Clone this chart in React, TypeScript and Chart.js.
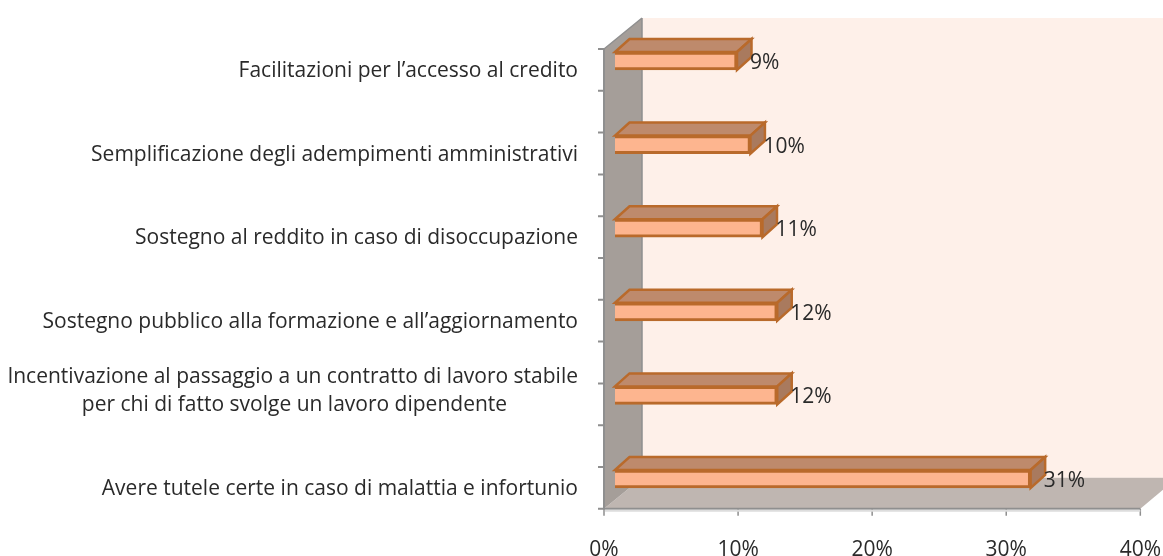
import React, { useEffect, useRef } from "react";
import { Chart, registerables } from "chart.js";

Chart.register(...registerables);

const categories: (string | string[])[] = [
  "Facilitazioni per l’accesso al credito",
  "Semplificazione degli adempimenti amministrativi",
  "Sostegno al reddito in caso di disoccupazione",
  "Sostegno pubblico alla formazione e all’aggiornamento",
  ["Incentivazione al passaggio a un contratto di lavoro stabile", "per chi di fatto svolge un lavoro dipendente"],
  "Avere tutele certe in caso di malattia e infortunio",
];
const shownValues = [9.1, 10.1, 11.0, 12.1, 12.1, 31.0];
const valueLabels = ["9%", "10%", "11%", "12%", "12%", "31%"];
const xTicks = [0, 10, 20, 30, 40];

const FONT = "'Open Sans', sans-serif";
const BAR_SHIFT = { x: 11, y: -7 };
const BAR_DEPTH = { x: 14.5, y: -13 };
const WALL_DEPTH = { x: 38, y: -31 };
const C = {
  back: "#FEF0E9", floor: "#BFB6B1", wall: "#A59E99", edge: "#8F8F8F", edgeLight: "#DDDDDD",
  face: "#FDB58F", top: "#BE8A6C", side: "#A97A5E", stroke: "#B96A2B", text: "#2a2a2a",
};

function poly(ctx: CanvasRenderingContext2D, pts: number[][], fill?: string, stroke?: string, w = 1) {
  ctx.beginPath();
  pts.forEach(([x, y], i) => (i ? ctx.lineTo(x, y) : ctx.moveTo(x, y)));
  ctx.closePath();
  if (fill) { ctx.fillStyle = fill; ctx.fill(); }
  if (stroke) { ctx.strokeStyle = stroke; ctx.lineWidth = w; ctx.lineJoin = "miter"; ctx.stroke(); }
}

const scene3d = {
  id: "scene3d",
  beforeDatasetsDraw(chart: any) {
    const { ctx, scales: { x, y } } = chart;
    const x0 = x.getPixelForValue(0);
    const x1 = x.getPixelForValue(40);
    const band = y.getPixelForValue(1) - y.getPixelForValue(0);
    const top = y.getPixelForValue(0) - 19;
    const bottom = top + band * 5.5;
    const d = WALL_DEPTH;
    const W = chart.width;
    ctx.save();
    // back wall
    ctx.fillStyle = C.back;
    ctx.fillRect(x0 + d.x, top + d.y, W - x0 - d.x, bottom - top);
    // floor
    poly(ctx, [[x0, bottom], [x0 + d.x, bottom + d.y], [W, bottom + d.y], [W, bottom - 19], [x1, bottom]], C.floor);
    // side wall
    poly(ctx, [[x0, top], [x0 + d.x, top + d.y], [x0 + d.x, bottom + d.y], [x0, bottom]], C.wall);
    ctx.strokeStyle = C.edge;
    ctx.lineWidth = 1.5;
    ctx.beginPath();
    ctx.moveTo(x0 + d.x, top + d.y); ctx.lineTo(x0 + d.x, bottom + d.y);
    ctx.moveTo(x0, top); ctx.lineTo(x0 + d.x, top + d.y);
    ctx.stroke();
    // axis lines
    ctx.lineWidth = 2;
    ctx.beginPath();
    ctx.moveTo(x0, top); ctx.lineTo(x0, bottom);
    ctx.moveTo(x0 - 1, bottom); ctx.lineTo(x1, bottom);
    // y tick marks, two per category
    for (let i = 0; i <= 11; i++) {
      const py = top + (i * band) / 2;
      ctx.moveTo(x0 - 6, py); ctx.lineTo(x0, py);
    }
    ctx.stroke();
    ctx.lineWidth = 1.5;
    ctx.beginPath();
    xTicks.forEach((v) => {
      const px = x.getPixelForValue(v);
      ctx.moveTo(px, bottom); ctx.lineTo(px, bottom + 7);
    });
    ctx.stroke();
    ctx.strokeStyle = C.edgeLight;
    ctx.lineWidth = 2;
    ctx.beginPath();
    ctx.moveTo(x0 + 1, bottom + 2); ctx.lineTo(x1, bottom + 2);
    ctx.stroke();
    ctx.restore();

    // bars stand in the middle of the depth: shift them, then add their 3D faces
    ctx.save();
    ctx.translate(BAR_SHIFT.x, BAR_SHIFT.y);
    const b = BAR_DEPTH;
    chart.getDatasetMeta(0).data.forEach((bar: any) => {
      const h = bar.height / 2;
      poly(ctx, [[bar.base, bar.y - h], [bar.base + b.x, bar.y - h + b.y], [bar.x + b.x, bar.y - h + b.y], [bar.x, bar.y - h]], C.top, C.stroke, 2.5);
      poly(ctx, [[bar.x, bar.y - h], [bar.x + b.x, bar.y - h + b.y], [bar.x + b.x, bar.y + h + b.y], [bar.x, bar.y + h]], C.side, C.stroke, 2.5);
    });
  },
  afterDatasetsDraw(chart: any) {
    const { ctx } = chart;
    ctx.restore();
    ctx.save();
    ctx.font = `21px ${FONT}`;
    ctx.fillStyle = C.text;
    ctx.textAlign = "left";
    ctx.textBaseline = "middle";
    chart.getDatasetMeta(0).data.forEach((bar: any, i: number) => {
      ctx.fillText(valueLabels[i], bar.x + BAR_SHIFT.x + 13, bar.y + BAR_SHIFT.y + 2);
    });
    ctx.restore();
  },
};

function dropAutoMargins(s: any) {
  s.paddingTop = 0;
  s.paddingBottom = 0;
  if (s._margins) { s._margins.top = 0; s._margins.bottom = 0; }
}

export default function App() {
  const ref = useRef<HTMLCanvasElement>(null);
  useEffect(() => {
    const chart = new Chart(ref.current!, {
      type: "bar",
      plugins: [scene3d],
      data: {
        labels: categories as any,
        datasets: [{
          data: shownValues,
          backgroundColor: C.face,
          borderColor: C.stroke,
          borderWidth: 3,
          barThickness: 18,
          clip: false,
        } as any],
      },
      options: {
        indexAxis: "y",
        animation: false,
        responsive: false,
        layout: { autoPadding: false, padding: { top: 26.2, right: 22, left: 0, bottom: 0 } },
        plugins: { legend: { display: false }, tooltip: { enabled: false }, title: { display: false } },
        scales: {
          x: {
            min: 0, max: 40,
            grid: { display: false }, border: { display: false },
            afterBuildTicks(s: any) { s.ticks = xTicks.map((value) => ({ value })); },
            afterFit(s: any) { s.height = 28.2; },
            ticks: {
              padding: 2, maxRotation: 0,
              color: C.text, font: { family: FONT, size: 21 },
              callback: (v: any) => `${v}%`,
            },
          },
          y: {
            grid: { display: false }, border: { display: false },
            afterFit(s: any) { s.width = 604; dropAutoMargins(s); },
            ticks: {
              padding: 18, autoSkip: false, labelOffset: 3,
              color: C.text, font: { family: FONT, size: 21, lineHeight: 28 / 21 },
              callback(this: any, v: any) {
                const l = this.getLabelForValue(v);
                // two-line label: second line centred under the first, block centred on its last line
                return Array.isArray(l) ? [l[0], l[1] + "\u00A0".repeat(13), ""] : l;
              },
            },
          },
        },
      },
    } as any);
    return () => chart.destroy();
  }, []);
  return <canvas ref={ref} width={1163} height={556} style={{ position: "absolute", left: 0, top: 0, display: "block" }} />;
}
